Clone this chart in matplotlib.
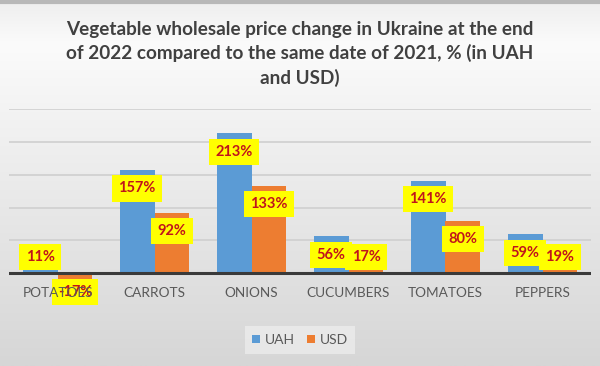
import numpy as np
import matplotlib.pyplot as plt
from matplotlib.colors import LinearSegmentedColormap

categories = ['POTATOES', 'CARROTS', 'ONIONS', 'CUCUMBERS', 'TOMATOES', 'PEPPERS']
uah = [11, 157, 213, 56, 141, 59]
usd = [-17, 92, 133, 17, 80, 19]

title = ('Vegetable wholesale price change in Ukraine at the end\n'
         'of 2022 compared to the same date of 2021, % (in UAH\n'
         'and USD)')

plt.rcParams['font.family'] = ['Lato', 'DejaVu Sans']

fig = plt.figure(figsize=(6, 3.66), dpi=100)

# gray gradient background
bg = fig.add_axes([0, 0, 1, 1], zorder=-5)
cmap = LinearSegmentedColormap.from_list('bg', [(0, '#eeeeee'), (0.12, '#fbfbfb'),
                                                (0.35, '#f1f1f1'), (1, '#d6d6d6')])
grad = np.linspace(0, 1, 256).reshape(-1, 1)
bg.imshow(grad, aspect='auto', cmap=cmap, extent=[0, 1, 0, 1], origin='upper')
bg.axhline(0.995, color='#b8b8b8', lw=3)
bg.set_axis_off()

ax = fig.add_axes([9 / 600, 1 - 306 / 366, 582 / 600, 197 / 366])
ax.patch.set_alpha(0)
x = np.arange(len(categories))
w = 0.36
ax.bar(x - w / 2, uah, w, color='#5b9bd5', label='UAH', zorder=3)
ax.bar(x + w / 2, usd, w, color='#ed7d31', label='USD', zorder=3)

for g in [50, 100, 150, 200, 250]:
    ax.axhline(g, color='#cfcfcf', lw=1.2, zorder=1)
ax.axhline(0, color='#3a3a3a', lw=2.2, zorder=4)

def label_y(v):
    if v < 0:
        return v - 12
    return max(v - 28, 25)

box = dict(boxstyle='square,pad=0.42', fc='#ffff00', ec='none')
for i in range(len(categories)):
    for dx, v in [(-w / 2, uah[i]), (w / 2, usd[i])]:
        ax.text(x[i] + dx, label_y(v), f'{v}%', ha='center', va='center',
                fontsize=10.5, fontweight='bold', color='#c0141c', bbox=box, zorder=6)
    ax.annotate(categories[i], (x[i], 0), xytext=(0, -20), textcoords='offset pixels',
                ha='center', va='center', fontsize=9.8, color='#595959', zorder=7)

ax.set_xlim(-0.5, 5.5)
ax.set_ylim(-50, 250)
ax.set_axis_off()

fig.text(0.5, 1 - 54 / 366, title, ha='center', va='center', fontsize=13.6,
         fontweight='bold', color='#404040', linespacing=1.42)

leg = fig.legend(loc='center', bbox_to_anchor=(0.5, 1 - 340 / 366), ncol=2, frameon=True,
                 fontsize=10, handlelength=0.55, handleheight=0.55, handletextpad=0.35,
                 columnspacing=0.9, borderpad=0.55, fancybox=False)
leg.get_frame().set_facecolor('#ececec')
leg.get_frame().set_edgecolor('none')
for t in leg.get_texts():
    t.set_color('#595959')

fig.savefig('out.png', dpi=100)
